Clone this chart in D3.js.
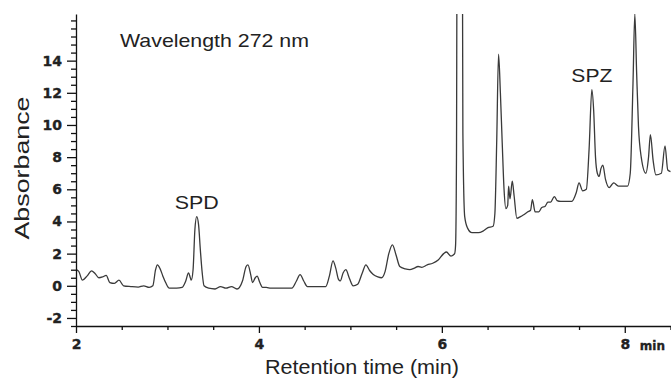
<!DOCTYPE html>
<html>
<head>
<meta charset="utf-8">
<script src="https://cdn.jsdelivr.net/npm/d3@7"></script>
<style>
  body { margin: 0; background: #fff; }
  svg { display: block; }
  .tick-label { font-family: "DejaVu Sans", sans-serif; font-weight: bold; font-size: 14px; fill: #222; stroke: #222; stroke-width: 0.35px; }
  .plain { font-family: "Liberation Sans", Arial, sans-serif; fill: #222; }
</style>
</head>
<body>
<div id="chart"></div>
<script>
const retentionTime = [
  2.00, 2.03, 2.07, 2.12, 2.17, 2.21, 2.25, 2.29, 2.33, 2.37, 2.42, 2.47, 2.52, 2.60, 2.68, 2.74,
  2.80, 2.84, 2.87, 2.89, 2.92, 2.95, 2.98, 3.02, 3.10, 3.16, 3.20, 3.23, 3.25, 3.26, 3.28, 3.30,
  3.32, 3.34, 3.36, 3.38, 3.40, 3.45, 3.52, 3.58, 3.64, 3.70, 3.76, 3.82, 3.86, 3.88, 3.91, 3.93,
  3.96, 3.98, 4.01, 4.04, 4.08, 4.13, 4.25, 4.36, 4.41, 4.45, 4.49, 4.53, 4.63, 4.73, 4.77, 4.81,
  4.84, 4.87, 4.89, 4.92, 4.95, 4.99, 5.03, 5.08, 5.13, 5.17, 5.21, 5.25, 5.30, 5.34, 5.38, 5.42,
  5.46, 5.50, 5.54, 5.60, 5.65, 5.70, 5.74, 5.78, 5.84, 5.90, 5.96, 6.02, 6.05, 6.10, 6.14, 6.15,
  6.16, 6.17, 6.22, 6.23, 6.25, 6.28, 6.33, 6.40, 6.45, 6.50, 6.56, 6.58, 6.60, 6.62, 6.64, 6.66,
  6.68, 6.70, 6.72, 6.73, 6.745, 6.77, 6.79, 6.82, 6.86, 6.89, 6.94, 6.97, 6.99, 7.02, 7.06, 7.09,
  7.13, 7.16, 7.19, 7.23, 7.26, 7.30, 7.38, 7.42, 7.47, 7.50, 7.54, 7.58, 7.61, 7.64, 7.66, 7.68,
  7.70, 7.72, 7.74, 7.76, 7.79, 7.83, 7.86, 7.88, 7.93, 7.98, 8.03, 8.06, 8.09, 8.11, 8.13, 8.15,
  8.18, 8.23, 8.26, 8.28, 8.31, 8.34, 8.40, 8.44, 8.47, 8.50
];
const absorbance = [
  1.0, 0.9, 0.35, 0.6, 0.93, 0.75, 0.5, 0.55, 0.65, 0.2, 0.15, 0.35, 0.0, -0.05, -0.08, 0.0,
  -0.1, 0.0, 1.0, 1.3, 1.05, 0.6, 0.2, -0.15, -0.15, -0.1, 0.3, 0.8, 0.5, 0.35, 1.0, 3.5,
  4.3, 3.8, 2.2, 0.8, 0.0, -0.15, -0.2, -0.05, -0.15, -0.05, -0.2, 0.3, 1.2, 1.3, 0.7, 0.2,
  0.5, 0.6, 0.2, -0.1, -0.1, -0.15, -0.15, -0.15, 0.3, 0.7, 0.3, -0.05, -0.05, -0.05, 0.6, 1.55,
  1.1, 0.4, 0.3, 0.8, 1.0, 0.45, 0.0, 0.1, 0.8, 1.3, 0.95, 0.7, 0.55, 0.5, 0.9, 2.0,
  2.55, 1.9, 1.2, 1.05, 1.0, 1.1, 1.2, 1.15, 1.3, 1.4, 1.6, 2.0, 2.1, 1.85, 2.0, 2.5,
  8.0, 30, 30, 9.5, 4.3, 3.6, 3.3, 3.3, 3.4, 3.6, 3.7, 4.5, 9.0, 14.4, 12.0, 8.9,
  6.0, 4.8, 5.0, 6.2, 5.4, 6.5, 5.6, 4.2, 4.3, 4.4, 4.6, 4.7, 5.35, 4.6, 4.6, 4.85,
  4.95, 5.2, 5.2, 5.55, 5.3, 5.25, 5.25, 5.25, 5.8, 6.4, 5.9, 6.0, 8.5, 12.2, 10.9, 8.0,
  7.0, 6.8, 7.3, 7.5, 6.6, 6.1, 6.3, 6.4, 6.2, 6.2, 6.2, 7.0, 12.6, 16.9, 13.2, 9.9,
  8.0, 7.0, 8.0, 9.4, 7.8, 6.9, 7.0, 8.7, 7.2, 7.1
];

// Marcas de los ejes
const yMajorTicks = [-2, 0, 2, 4, 6, 8, 10, 12, 14];
const xMajorTicks = [2, 4, 6, 8];
const xMinorTicks = [2.5, 3, 3.5, 4.5, 5, 5.5, 6.5, 7, 7.5, 8.5];
const yMinorTicks = [-2.5, -1.5, -1, -0.5, 0.5, 1, 1.5, 2.5, 3, 3.5, 4.5, 5, 5.5, 6.5, 7, 7.5,
                     8.5, 9, 9.5, 10.5, 11, 11.5, 12.5, 13, 13.5, 14.5, 15, 15.5, 16, 16.5];

// Anotaciones
const peakLabels = [
  { text: "SPD", t: 3.32, a: 4.3 },
  { text: "SPZ", t: 7.64, a: 12.2 }
];

const width = 671, height = 382;
const plotLeft = 76, plotRight = 671, plotTop = 14, plotBottom = 326;

const svg = d3.select("#chart").append("svg")
  .attr("width", width)
  .attr("height", height);

const x = d3.scaleLinear().domain([2, 8.5]).range([plotLeft, plotRight - 0.5]);
const y = d3.scaleLinear().domain([-2.5, 16.9]).range([plotBottom, plotTop]);

// Recorte del área del gráfico
svg.append("clipPath").attr("id", "plot-clip")
  .append("rect")
  .attr("x", plotLeft).attr("y", plotTop)
  .attr("width", plotRight - plotLeft).attr("height", plotBottom - plotTop);

const points = retentionTime.map((t, i) => [t, absorbance[i]]);

const line = d3.line()
  .x(d => x(d[0]))
  .y(d => y(d[1]))
  .curve(d3.curveMonotoneX);

svg.append("path")
  .datum(points)
  .attr("clip-path", "url(#plot-clip)")
  .attr("fill", "none")
  .attr("stroke", "#3a3a3a")
  .attr("stroke-width", 1.3)
  .attr("stroke-linejoin", "round")
  .attr("d", line);

// Formato simple con guion normal
const plainNumber = d => String(d);

// Eje Y
const yMinorAxis = d3.axisLeft(y).tickValues(yMinorTicks).tickSize(5).tickFormat("").tickSizeOuter(0);
const yMajorAxis = d3.axisLeft(y).tickValues(yMajorTicks).tickSize(9).tickPadding(5)
  .tickFormat(plainNumber).tickSizeOuter(0);

const gyMinor = svg.append("g").attr("transform", `translate(${plotLeft},0)`).call(yMinorAxis);
const gy = svg.append("g").attr("transform", `translate(${plotLeft},0)`).call(yMajorAxis);
gyMinor.select(".domain").remove();
gy.selectAll("text").attr("class", "tick-label").attr("font-family", null).attr("font-size", null);

// Eje X
const xMinorAxis = d3.axisBottom(x).tickValues(xMinorTicks).tickSize(4).tickFormat("").tickSizeOuter(0);
const xMajorAxis = d3.axisBottom(x).tickValues(xMajorTicks).tickSize(7).tickPadding(6)
  .tickFormat(plainNumber).tickSizeOuter(0);

const gxMinor = svg.append("g").attr("transform", `translate(0,${plotBottom})`).call(xMinorAxis);
const gx = svg.append("g").attr("transform", `translate(0,${plotBottom})`).call(xMajorAxis);
gxMinor.select(".domain").remove();
gx.selectAll("text").attr("class", "tick-label").attr("font-family", null).attr("font-size", null);

svg.selectAll(".domain, .tick line").attr("stroke", "#111").attr("stroke-width", 1.3);

// "min" junto al 8
svg.append("text")
  .attr("class", "tick-label")
  .attr("x", x(8) + 15)
  .attr("y", plotBottom + 24)
  .style("font-size", "12px")
  .text("min");

// Títulos y etiquetas
svg.append("text")
  .attr("class", "plain")
  .attr("x", 120).attr("y", 47)
  .attr("font-size", "19px")
  .attr("textLength", 189)
  .attr("lengthAdjust", "spacingAndGlyphs")
  .text("Wavelength 272 nm");

svg.append("text")
  .attr("class", "plain")
  .attr("x", 362).attr("y", 374)
  .attr("text-anchor", "middle")
  .attr("font-size", "20px")
  .attr("textLength", 194)
  .attr("lengthAdjust", "spacingAndGlyphs")
  .text("Retention time (min)");

svg.append("text")
  .attr("class", "plain")
  .attr("transform", "translate(29,168) rotate(-90)")
  .attr("text-anchor", "middle")
  .attr("font-size", "21px")
  .attr("textLength", 143)
  .attr("lengthAdjust", "spacingAndGlyphs")
  .text("Absorbance");

svg.selectAll(".peak-label")
  .data(peakLabels)
  .enter().append("text")
  .attr("class", "plain peak-label")
  .attr("x", d => x(d.t))
  .attr("y", d => y(d.a) - 8)
  .attr("text-anchor", "middle")
  .attr("font-size", "19px")
  .attr("textLength", d => d.text === "SPD" ? 44 : 41)
  .attr("lengthAdjust", "spacingAndGlyphs")
  .text(d => d.text);
</script>
</body>
</html>
